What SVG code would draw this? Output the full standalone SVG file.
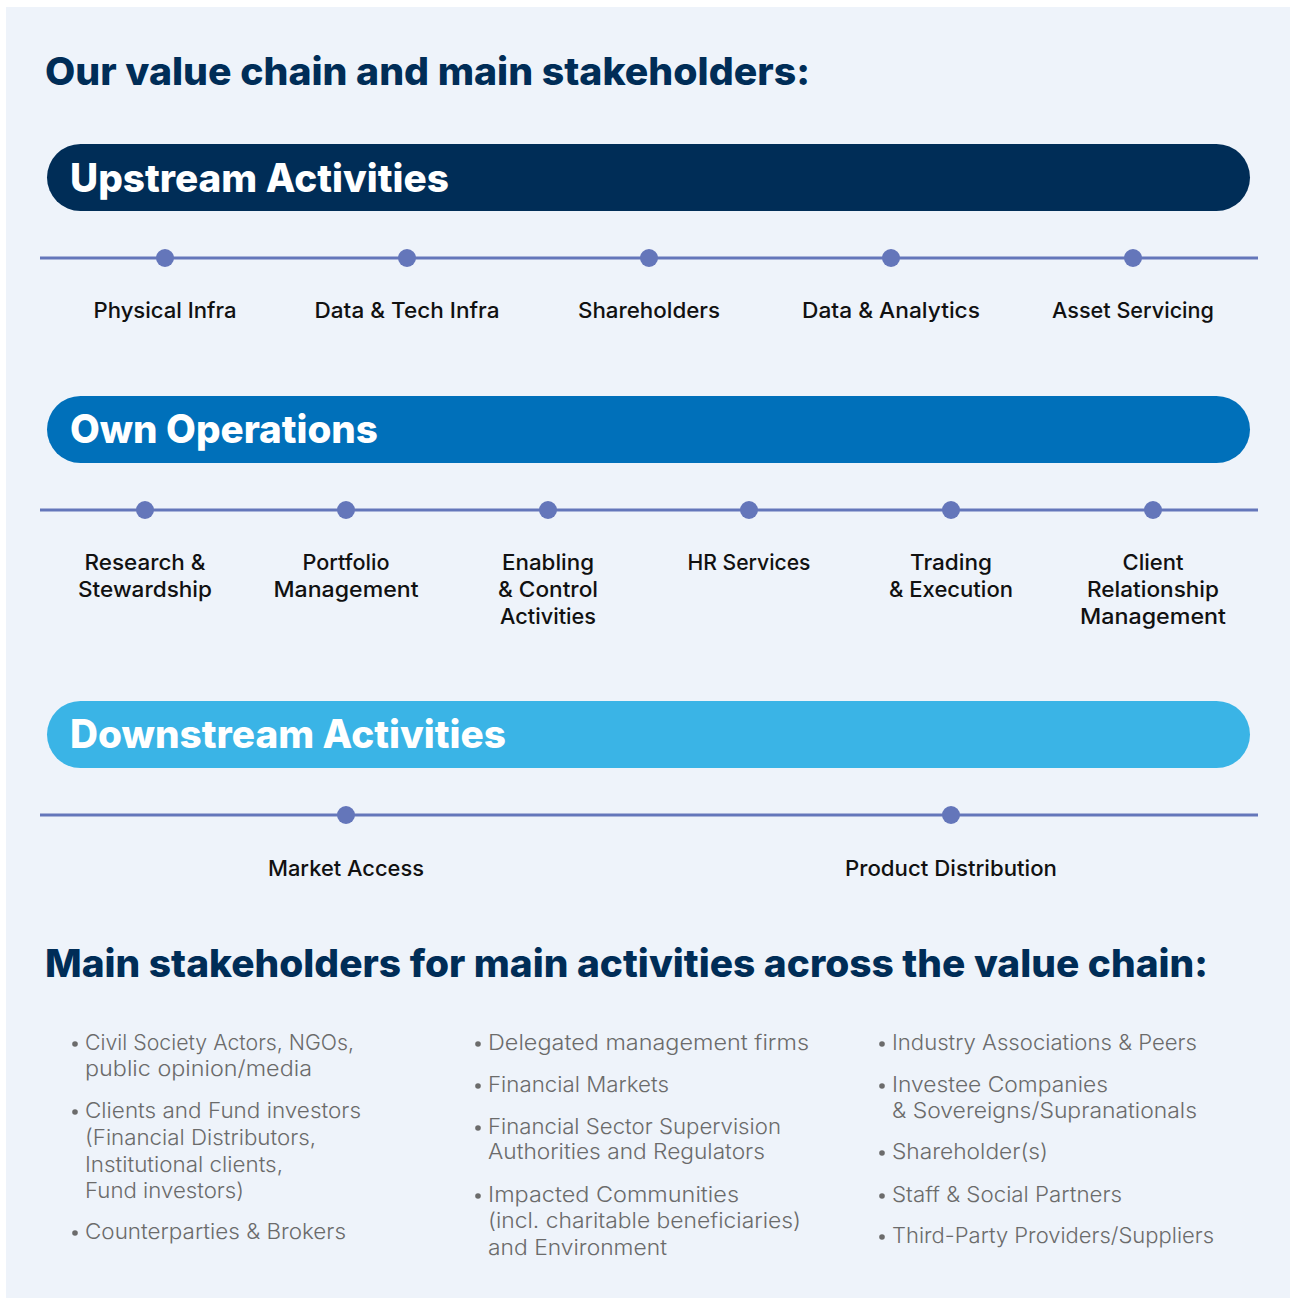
<svg xmlns="http://www.w3.org/2000/svg" width="1292" height="1298" viewBox="0 0 1292 1298">
  <style>
    .panel { fill: #EEF3FA; }
    .h1 { font-family: Inter, "Open Sans", "Liberation Sans", sans-serif; font-weight: 800; font-size: 38px; fill: #002D57; }
    .bar-text { font-family: Inter, "Open Sans", "Liberation Sans", sans-serif; font-weight: 800; font-size: 39px; fill: #FFFFFF; }
    .track { stroke: #6476BA; stroke-width: 3; fill: none; }
    .dot { fill: #6476BA; }
    .lbl { font-family: Inter, "Open Sans", "Liberation Sans", sans-serif; font-weight: 500; font-size: 21.5px; fill: #111111; text-anchor: middle; }
    .item { font-family: Inter, "Open Sans", "Liberation Sans", sans-serif; font-weight: 300; font-size: 21.5px; fill: #6B6B6B; }
    .bullet { fill: #6B6B6B; }
  </style>

  <rect x="0" y="0" width="1292" height="1298" fill="#FFFFFF"/>
  <rect class="panel" x="6" y="7" width="1284" height="1291"/>

  <text class="h1" x="45" y="85" textLength="765" lengthAdjust="spacingAndGlyphs">Our value chain and main stakeholders:</text>

  <!-- Section headers -->
  <g id="hdr-upstream">
    <rect x="47" y="144" width="1203" height="67" rx="33.5" fill="#002D57"/>
    <text class="bar-text" x="70" y="192" textLength="379" lengthAdjust="spacingAndGlyphs">Upstream Activities</text>
  </g>
  <g id="hdr-own">
    <rect x="47" y="396" width="1203" height="67" rx="33.5" fill="#0070BA"/>
    <text class="bar-text" x="70" y="443" textLength="308" lengthAdjust="spacingAndGlyphs">Own Operations</text>
  </g>
  <g id="hdr-downstream">
    <rect x="47" y="701" width="1203" height="67" rx="33.5" fill="#3AB4E6"/>
    <text class="bar-text" x="70" y="748" textLength="436" lengthAdjust="spacingAndGlyphs">Downstream Activities</text>
  </g>

  <!-- Timeline tracks -->
  <g id="connectors">
    <line class="track" x1="40" y1="258" x2="1258" y2="258"/>
    <line class="track" x1="40" y1="510" x2="1258" y2="510"/>
    <line class="track" x1="40" y1="815" x2="1258" y2="815"/>
  </g>

  <!-- Upstream nodes -->
  <g id="n-physical-infra">
    <circle class="dot" cx="165" cy="258" r="9"/>
    <text class="lbl" x="165" y="318" textLength="143" lengthAdjust="spacingAndGlyphs">Physical Infra</text>
  </g>
  <g id="n-data-tech-infra">
    <circle class="dot" cx="407" cy="258" r="9"/>
    <text class="lbl" x="407" y="318" textLength="185" lengthAdjust="spacingAndGlyphs">Data &amp; Tech Infra</text>
  </g>
  <g id="n-shareholders">
    <circle class="dot" cx="649" cy="258" r="9"/>
    <text class="lbl" x="649" y="318" textLength="142" lengthAdjust="spacingAndGlyphs">Shareholders</text>
  </g>
  <g id="n-data-analytics">
    <circle class="dot" cx="891" cy="258" r="9"/>
    <text class="lbl" x="891" y="318" textLength="178" lengthAdjust="spacingAndGlyphs">Data &amp; Analytics</text>
  </g>
  <g id="n-asset-servicing">
    <circle class="dot" cx="1133" cy="258" r="9"/>
    <text class="lbl" x="1133" y="318" textLength="162" lengthAdjust="spacingAndGlyphs">Asset Servicing</text>
  </g>

  <!-- Own operations nodes -->
  <g id="n-research">
    <circle class="dot" cx="145" cy="510" r="9"/>
    <text class="lbl" x="145" y="570" textLength="121" lengthAdjust="spacingAndGlyphs">Research &amp;</text>
    <text class="lbl" x="145" y="597" textLength="134" lengthAdjust="spacingAndGlyphs">Stewardship</text>
  </g>
  <g id="n-portfolio">
    <circle class="dot" cx="346" cy="510" r="9"/>
    <text class="lbl" x="346" y="570" textLength="87" lengthAdjust="spacingAndGlyphs">Portfolio</text>
    <text class="lbl" x="346" y="597" textLength="145" lengthAdjust="spacingAndGlyphs">Management</text>
  </g>
  <g id="n-enabling">
    <circle class="dot" cx="548" cy="510" r="9"/>
    <text class="lbl" x="548" y="570" textLength="92" lengthAdjust="spacingAndGlyphs">Enabling</text>
    <text class="lbl" x="548" y="597" textLength="100" lengthAdjust="spacingAndGlyphs">&amp; Control</text>
    <text class="lbl" x="548" y="624" textLength="96" lengthAdjust="spacingAndGlyphs">Activities</text>
  </g>
  <g id="n-hr">
    <circle class="dot" cx="749" cy="510" r="9"/>
    <text class="lbl" x="749" y="570" textLength="123" lengthAdjust="spacingAndGlyphs">HR Services</text>
  </g>
  <g id="n-trading">
    <circle class="dot" cx="951" cy="510" r="9"/>
    <text class="lbl" x="951" y="570" textLength="82" lengthAdjust="spacingAndGlyphs">Trading</text>
    <text class="lbl" x="951" y="597" textLength="124" lengthAdjust="spacingAndGlyphs">&amp; Execution</text>
  </g>
  <g id="n-crm">
    <circle class="dot" cx="1153" cy="510" r="9"/>
    <text class="lbl" x="1153" y="570" textLength="61" lengthAdjust="spacingAndGlyphs">Client</text>
    <text class="lbl" x="1153" y="597" textLength="132" lengthAdjust="spacingAndGlyphs">Relationship</text>
    <text class="lbl" x="1153" y="624" textLength="146" lengthAdjust="spacingAndGlyphs">Management</text>
  </g>

  <!-- Downstream nodes -->
  <g id="n-market-access">
    <circle class="dot" cx="346" cy="815" r="9"/>
    <text class="lbl" x="346" y="876" textLength="156" lengthAdjust="spacingAndGlyphs">Market Access</text>
  </g>
  <g id="n-product-distribution">
    <circle class="dot" cx="951" cy="815" r="9"/>
    <text class="lbl" x="951" y="876" textLength="212" lengthAdjust="spacingAndGlyphs">Product Distribution</text>
  </g>

  <text class="h1" x="45" y="977" textLength="1163" lengthAdjust="spacingAndGlyphs">Main stakeholders for main activities across the value chain:</text>

  <!-- Stakeholder lists -->
  <g id="stakeholders-col1">
    <circle class="bullet" cx="75" cy="1044" r="2.8"/>
    <text class="item" x="85" y="1050" textLength="269" lengthAdjust="spacingAndGlyphs">Civil Society Actors, NGOs,</text>
    <text class="item" x="85" y="1076" textLength="227" lengthAdjust="spacingAndGlyphs">public opinion/media</text>
    <circle class="bullet" cx="75" cy="1112" r="2.8"/>
    <text class="item" x="85" y="1118" textLength="276" lengthAdjust="spacingAndGlyphs">Clients and Fund investors</text>
    <text class="item" x="85" y="1145" textLength="231" lengthAdjust="spacingAndGlyphs">(Financial Distributors,</text>
    <text class="item" x="85" y="1172" textLength="198" lengthAdjust="spacingAndGlyphs">Institutional clients,</text>
    <text class="item" x="85" y="1198" textLength="159" lengthAdjust="spacingAndGlyphs">Fund investors)</text>
    <circle class="bullet" cx="75" cy="1233" r="2.8"/>
    <text class="item" x="85" y="1239" textLength="261" lengthAdjust="spacingAndGlyphs">Counterparties &amp; Brokers</text>
  </g>
  <g id="stakeholders-col2">
    <circle class="bullet" cx="478" cy="1044" r="2.8"/>
    <text class="item" x="488" y="1050" textLength="321" lengthAdjust="spacingAndGlyphs">Delegated management firms</text>
    <circle class="bullet" cx="478" cy="1086" r="2.8"/>
    <text class="item" x="488" y="1092" textLength="181" lengthAdjust="spacingAndGlyphs">Financial Markets</text>
    <circle class="bullet" cx="478" cy="1128" r="2.8"/>
    <text class="item" x="488" y="1134" textLength="293" lengthAdjust="spacingAndGlyphs">Financial Sector Supervision</text>
    <text class="item" x="488" y="1159" textLength="277" lengthAdjust="spacingAndGlyphs">Authorities and Regulators</text>
    <circle class="bullet" cx="478" cy="1196" r="2.8"/>
    <text class="item" x="488" y="1202" textLength="251" lengthAdjust="spacingAndGlyphs">Impacted Communities</text>
    <text class="item" x="488" y="1228" textLength="313" lengthAdjust="spacingAndGlyphs">(incl. charitable beneficiaries)</text>
    <text class="item" x="488" y="1255" textLength="179" lengthAdjust="spacingAndGlyphs">and Environment</text>
  </g>
  <g id="stakeholders-col3">
    <circle class="bullet" cx="882" cy="1044" r="2.8"/>
    <text class="item" x="892" y="1050" textLength="305" lengthAdjust="spacingAndGlyphs">Industry Associations &amp; Peers</text>
    <circle class="bullet" cx="882" cy="1086" r="2.8"/>
    <text class="item" x="892" y="1092" textLength="216" lengthAdjust="spacingAndGlyphs">Investee Companies</text>
    <text class="item" x="892" y="1118" textLength="305" lengthAdjust="spacingAndGlyphs">&amp; Sovereigns/Supranationals</text>
    <circle class="bullet" cx="882" cy="1153" r="2.8"/>
    <text class="item" x="892" y="1159" textLength="156" lengthAdjust="spacingAndGlyphs">Shareholder(s)</text>
    <circle class="bullet" cx="882" cy="1196" r="2.8"/>
    <text class="item" x="892" y="1202" textLength="230" lengthAdjust="spacingAndGlyphs">Staff &amp; Social Partners</text>
    <circle class="bullet" cx="882" cy="1237" r="2.8"/>
    <text class="item" x="892" y="1243" textLength="322" lengthAdjust="spacingAndGlyphs">Third-Party Providers/Suppliers</text>
  </g>
</svg>
